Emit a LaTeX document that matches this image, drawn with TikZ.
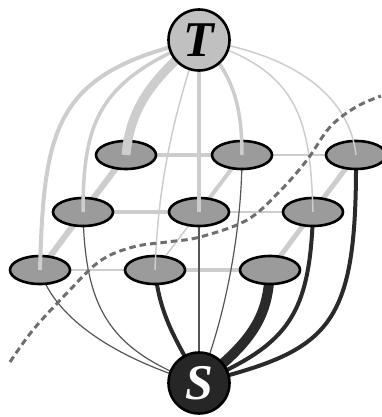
\documentclass[tikz,border=0pt]{standalone}
\usepackage{fontspec}
\setmainfont{Liberation Serif}
\usetikzlibrary{shapes.geometric}
\pgfdeclarelayer{bg}
\pgfdeclarelayer{over}
\pgfdeclarelayer{top}
\pgfsetlayers{bg,main,over,top}
\definecolor{lightedge}{RGB}{205,205,205}
\definecolor{darkedge}{RGB}{42,42,42}
\definecolor{thinedge}{RGB}{85,85,85}
\definecolor{cellfill}{RGB}{155,155,155}
\definecolor{tfill}{RGB}{192,192,192}
\definecolor{sfill}{RGB}{38,38,38}
\definecolor{cutcol}{RGB}{110,110,110}
\begin{document}
\begin{tikzpicture}[x=1pt,y=-1pt,
  cell/.style={ellipse,draw=black,line width=2.6pt,fill=cellfill,minimum width=60pt,minimum height=28pt,inner sep=0pt},
  term/.style={circle,draw=black,line width=2.6pt,minimum size=61pt,inner sep=0pt,font=\fontsize{50}{50}\selectfont\bfseries\itshape},
  light/.style={draw=lightedge},
  dark/.style={draw=darkedge},
  thin/.style={draw=thinedge,line width=1.2pt},
  cut/.style={draw=cutcol,line width=3pt,dash pattern=on 6.5pt off 4pt}]
\useasboundingbox (0,0) rectangle (381,417);
% grid nodes
\node[cell] (b1) at (126,155) {};
\node[cell] (b2) at (242,155) {};
\node[cell] (b3) at (356,155) {};
\node[cell] (m1) at (83,212) {};
\node[cell] (m2) at (199,212) {};
\node[cell] (m3) at (313,212) {};
\node[cell] (f1) at (40,270) {};
\node[cell] (f2) at (155,270) {};
\node[cell] (f3) at (270,270) {};
\begin{pgfonlayer}{top}
\node[term,fill=tfill] (T) at (199,40) {\raisebox{-1pt}{T}};
\node[term,fill=sfill,text=white] (S) at (199,383) {\raisebox{-1pt}{S}};
\end{pgfonlayer}
% grid lines (behind cells)
\begin{pgfonlayer}{bg}
\draw[light,line width=3.5pt] (b1) -- (b2);
\draw[light,line width=2pt] (b2) -- (b3);
\draw[light,line width=4pt] (m1) -- (m2);
\draw[light,line width=2pt] (m2) -- (m3);
\draw[light,line width=2.5pt] (f1) -- (f2);
\draw[light,line width=4pt] (f2) -- (f3);
\draw[light,line width=6pt] (b1.center) -- (m1.center);
\draw[light,line width=6pt] (m1.center) -- (f1.center);
\draw[light,line width=4pt] (b2.center) -- (m2.center);
\draw[light,line width=1.5pt] (m2.center) -- (f2.center);
\draw[light,line width=5pt] (b3.center) -- (m3.center);
\draw[light,line width=5pt] (m3.center) -- (f3.center);
% edges to S
\draw[thin] (f1.center) .. controls (55,320) and (120,360) .. (S.center);
\draw[thin] (m1.center) .. controls (85,310) and (110,350) .. (S.center);
\draw[dark,line width=4pt] (f2.center) .. controls (160,320) and (180,345) .. (S.center);
\draw[thin] (m2.center) -- (S.center);
\draw[thin] (b2.center) .. controls (242,230) and (225,320) .. (S.center);
\draw[dark,line width=10pt] (f3.center) .. controls (268,315) and (255,340) .. (S.center);
\draw[dark,line width=4pt] (m3.center) .. controls (310,320) and (285,345) .. (S.center);
\draw[dark,line width=4pt] (b3.center) .. controls (357,330) and (330,350) .. (S.center);
\end{pgfonlayer}
% edges from T (over the cells)
\begin{pgfonlayer}{over}
\draw[light,line width=4pt] (T.center) .. controls (55,72) and (44,125) .. (f1.center);
\draw[light,line width=3.5pt] (T.center) .. controls (100,80) and (83,120) .. (m1.center);
\draw[light,line width=9pt] (T.center) .. controls (150,80) and (130,110) .. (b1.center);
\draw[light,line width=1.5pt] (T.center) .. controls (175,110) and (158,180) .. (f2.center);
\draw[light,line width=3.5pt] (T.center) -- (m2.center);
\draw[light,line width=3.5pt] (T.center) .. controls (230,70) and (242,100) .. (b2.center);
\draw[light,line width=1.5pt] (T.center) .. controls (300,70) and (310,120) .. (m3.center);
\draw[light,line width=1.5pt] (T.center) .. controls (300,55) and (350,100) .. (b3.center);
\end{pgfonlayer}
% cut
\begin{pgfonlayer}{top}
\draw[cut] plot[smooth,tension=0.6] coordinates {(10,362) (33,330) (67,293) (100,261) (133,247) (167,242) (200,237) (247,220) (280,191) (307,160) (330,127) (356,107) (381,96)};
\end{pgfonlayer}
\end{tikzpicture}
\end{document}
